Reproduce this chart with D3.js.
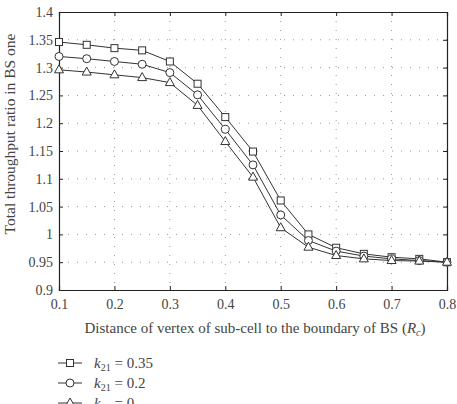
<!DOCTYPE html>
<html>
<head>
<meta charset="utf-8">
<script src="https://cdn.jsdelivr.net/npm/d3@7"></script>
<style>
  body { margin: 0; background: #fff; }
  text { font-family: "Liberation Serif", "DejaVu Serif", serif; fill: #444; }
</style>
</head>
<body>
<svg id="chart"></svg>
<script>
const width = 457;
const height = 404;

// distances (in Rc) and the three series
const xValues = [0.1, 0.15, 0.2, 0.25, 0.3, 0.35, 0.4, 0.45, 0.5, 0.55, 0.6, 0.65, 0.7, 0.75, 0.8];
const k035 = [1.346, 1.341, 1.335, 1.331, 1.311, 1.271, 1.211, 1.149, 1.061, 1.000, 0.976, 0.965, 0.959, 0.956, 0.950];
const k02  = [1.320, 1.316, 1.311, 1.306, 1.291, 1.251, 1.189, 1.125, 1.035, 0.989, 0.970, 0.961, 0.956, 0.953, 0.950];
const k0   = [1.296, 1.292, 1.287, 1.282, 1.273, 1.232, 1.167, 1.103, 1.012, 0.977, 0.962, 0.956, 0.953, 0.952, 0.950];
const xTicks = [0.1, 0.2, 0.3, 0.4, 0.5, 0.6, 0.7, 0.8];
const yTicks = [0.9, 0.95, 1, 1.05, 1.1, 1.15, 1.2, 1.25, 1.3, 1.35, 1.4];

const series = [
  { name: "0.35", values: k035, marker: "square" },
  { name: "0.2", values: k02, marker: "circle" },
  { name: "0", values: k0, marker: "triangle" }
];

const margin = { top: 12, right: 10, bottom: 114, left: 59 };
const plotW = width - margin.left - margin.right;
const plotH = height - margin.top - margin.bottom;

const svg = d3.select("#chart").attr("width", width).attr("height", height);
const g = svg.append("g").attr("transform", `translate(${margin.left},${margin.top})`);

const x = d3.scaleLinear().domain([0.1, 0.8]).range([0, plotW]);
const y = d3.scaleLinear().domain([0.9, 1.4]).range([plotH, 0]);

// dotted grid
g.append("g").selectAll("line")
  .data(xTicks.slice(1, -1))
  .join("line")
    .attr("x1", d => x(d)).attr("x2", d => x(d))
    .attr("y1", 0).attr("y2", plotH)
    .attr("stroke", "#999").attr("stroke-width", 1)
    .attr("stroke-dasharray", "1,8");
g.append("g").selectAll("line")
  .data(yTicks.slice(1, -1))
  .join("line")
    .attr("x1", 0).attr("x2", plotW)
    .attr("y1", d => y(d)).attr("y2", d => y(d))
    .attr("stroke", "#999").attr("stroke-width", 1)
    .attr("stroke-dasharray", "1,8");

// axes with inward ticks
const fmtX = d => d3.format(".1f")(d);
const fmtY = d => (d === 1 ? "1" : String(d));

g.append("g").attr("transform", `translate(0,${plotH})`)
  .call(d3.axisBottom(x).tickValues(xTicks).tickFormat(fmtX).tickSize(-4).tickPadding(9));
g.append("g")
  .call(d3.axisLeft(y).tickValues(yTicks).tickFormat(fmtY).tickSize(-4).tickPadding(6));
g.append("g")
  .call(d3.axisTop(x).tickValues(xTicks).tickFormat("").tickSize(-4));
g.append("g").attr("transform", `translate(${plotW},0)`)
  .call(d3.axisRight(y).tickValues(yTicks).tickFormat("").tickSize(-4));

g.selectAll(".domain").attr("stroke", "#222").attr("stroke-width", 1.2);
g.selectAll(".tick line").attr("stroke", "#222");
g.selectAll(".tick text").style("font-size", "14px").style("font-family", "Liberation Serif").attr("fill", "#555");

// lines
const line = d3.line().x((d, i) => x(xValues[i])).y(d => y(d));

function drawMarker(sel, type, cx, cy) {
  if (type === "square") {
    sel.append("rect").attr("x", cx - 3.5).attr("y", cy - 3.5).attr("width", 7).attr("height", 7);
  } else if (type === "circle") {
    sel.append("circle").attr("cx", cx).attr("cy", cy).attr("r", 4);
  } else {
    sel.append("path").attr("d", `M${cx},${cy - 5}L${cx + 4.5},${cy + 3}L${cx - 4.5},${cy + 3}Z`);
  }
}

series.forEach(s => {
  g.append("path")
    .datum(s.values)
    .attr("d", line)
    .attr("fill", "none")
    .attr("stroke", "#333")
    .attr("stroke-width", 1);
  const mg = g.append("g").attr("fill", "#fff").attr("stroke", "#333").attr("stroke-width", 1);
  s.values.forEach((v, i) => drawMarker(mg, s.marker, x(xValues[i]), y(v)));
});

// axis titles
svg.append("text")
  .attr("x", 255)
  .attr("y", 333)
  .attr("text-anchor", "middle")
  .style("font-size", "15px")
  .html('Distance of vertex of sub-cell to the boundary of BS (<tspan font-style="italic">R</tspan><tspan font-style="italic" font-size="10px" dy="3">c</tspan><tspan dy="-3">)</tspan>');

svg.append("text")
  .attr("transform", "translate(15,134) rotate(-90)")
  .attr("text-anchor", "middle")
  .style("font-size", "15.5px")
  .text("Total throughput ratio in BS one");

// legend
const legend = svg.append("g");
series.forEach((s, i) => {
  const ly = 363 + i * 20;
  legend.append("line")
    .attr("x1", 58).attr("x2", 82).attr("y1", ly).attr("y2", ly)
    .attr("stroke", "#333").attr("stroke-width", 1);
  const mg = legend.append("g").attr("fill", "#fff").attr("stroke", "#333").attr("stroke-width", 1);
  drawMarker(mg, s.marker, 70, ly);
  legend.append("text")
    .attr("x", 94).attr("y", ly + 5)
    .style("font-size", "15px")
    .html(`<tspan font-style="italic">k</tspan><tspan font-size="10px" dy="3">21</tspan><tspan dy="-3"> = ${s.name}</tspan>`);
});
</script>
</body>
</html>
